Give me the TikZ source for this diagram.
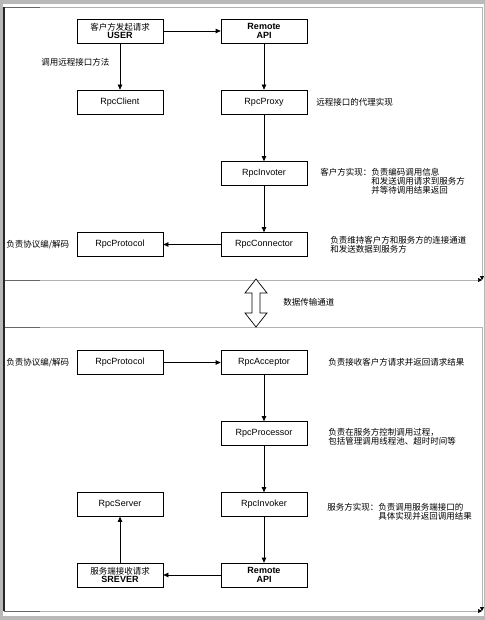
\documentclass[tikz,border=0pt]{standalone}
\usepackage{fontspec}
\setmainfont{Liberation Sans}
\newfontfamily\cjk{Noto Sans CJK SC}
\usetikzlibrary{arrows.meta}

\begin{document}
\begin{tikzpicture}[
      x=1bp, y=-1bp,
      line width=0.7bp,
      >={Triangle[length=5bp,width=4.5bp]},
      bloc/.style={
        draw,
        rectangle,
        minimum width=86bp,
        minimum height=24bp,
        inner sep=0pt,
        align=center,
        font=\fontsize{9bp}{8.8bp}\selectfont
      },
      note/.style={
        inner sep=0pt,
        anchor=west,
        align=left,
        font=\cjk\fontsize{8.5bp}{8.8bp}\selectfont
      },
      cadre/.style={
        gray!60,
        line width=0.6bp
      },
      coin/.style={
        cadre,
        -{Triangle[length=4bp,width=4bp,color=black]}
      }
    ]
      \useasboundingbox (0,0) rectangle (485,620);
      \fill[gray!55] (0,0) rectangle (485,620);
      \fill[white] (3,4) rectangle (484,616);

      % client panel
      \draw[cadre] (4,7) -- (482,7);
      \draw[coin] (482,7) -- (482,280);
      \draw[coin] (4,280) -- (482,280);
      % server panel
      \draw[cadre] (4,327) -- (482,327);
      \draw[coin] (482,327) -- (482,611);
      \draw[coin] (4,611) -- (482,611);
      \draw[black!60] (4,7) -- (40,7);
      \draw[black!60] (4,280) -- (40,280);
      \draw[black!60] (4,327) -- (40,327);
      \draw[black!60] (4,611) -- (40,611);
      \draw[black!85, line width=1.5bp] (4,7) -- (4,611);

      \node (c1) at (120,31) [bloc]{{\cjk\fontsize{8.5bp}{8.8bp}\selectfont 客户方发起请求}\\\textbf{USER}};
      \node (c2) at (264,31) [bloc]{\textbf{Remote}\\\textbf{API}};
      \node (c3) at (120,102) [bloc]{RpcClient};
      \node (c4) at (264,102) [bloc]{RpcProxy};
      \node (c5) at (264,173.5) [bloc]{RpcInvoter};
      \node (c6) at (264,244.5) [bloc]{RpcConnector};
      \node (c7) at (120,244.5) [bloc]{RpcProtocol};

      \node (s1) at (120,362.5) [bloc]{RpcProtocol};
      \node (s2) at (264,362.5) [bloc]{RpcAcceptor};
      \node (s3) at (264,433.5) [bloc]{RpcProcessor};
      \node (s4) at (264,504.5) [bloc]{RpcInvoker};
      \node (s5) at (120,504.5) [bloc]{RpcServer};
      \node (s6) at (120,575) [bloc]{{\cjk\fontsize{8.5bp}{8.8bp}\selectfont 服务端接收请求}\\\textbf{SREVER}};
      \node (s7) at (264,575) [bloc]{\textbf{Remote}\\\textbf{API}};

      \node (n1) at (41,62) [note]{调用远程接口方法};
      \node (n2) at (316,102) [note]{远程接口的代理实现};
      \node (n3) at (320,181.5) [note]{客户方实现：负责编码调用信息\\\phantom{客户方实现：}和发送调用请求到服务方\\\phantom{客户方实现：}并等待调用结果返回};
      \node (n4) at (6,244.5) [note]{负责协议编/解码};
      \node (n5) at (330,244.5) [note]{负责维持客户方和服务方的连接通道\\和发送数据到服务方};
      \node (n6) at (283,302) [note]{数据传输通道};
      \node (n7) at (6,362.5) [note]{负责协议编/解码};
      \node (n8) at (328,362.5) [note]{负责接收客户方请求并返回请求结果};
      \node (n9) at (328,437) [note]{负责在服务方控制调用过程，\\包括管理调用线程池、超时时间等};
      \node (n10) at (327,512) [note]{服务方实现：负责调用服务端接口的\\\phantom{服务方实现：}具体实现并返回调用结果};

      \draw[->] (c1) -- (c2);
      \draw[->] (c1) -- (c3);
      \draw[->] (c2) -- (c4);
      \draw[->] (c4) -- (c5);
      \draw[->] (c5) -- (c6);
      \draw[->] (c6) -- (c7);

      \draw[->] (s1) -- (s2);
      \draw[->] (s2) -- (s3);
      \draw[->] (s3) -- (s4);
      \draw[->] (s4) -- (s7);
      \draw[->] (s7) -- (s6);
      \draw[->] (s6) -- (s5);

      % data channel
      \draw[fill=white] (256,279) -- (267,293) -- (260,293) -- (260,313) -- (267,313)
        -- (256,327) -- (245,313) -- (252,313) -- (252,293) -- (245,293) -- cycle;

    \end{tikzpicture}
\end{document}
